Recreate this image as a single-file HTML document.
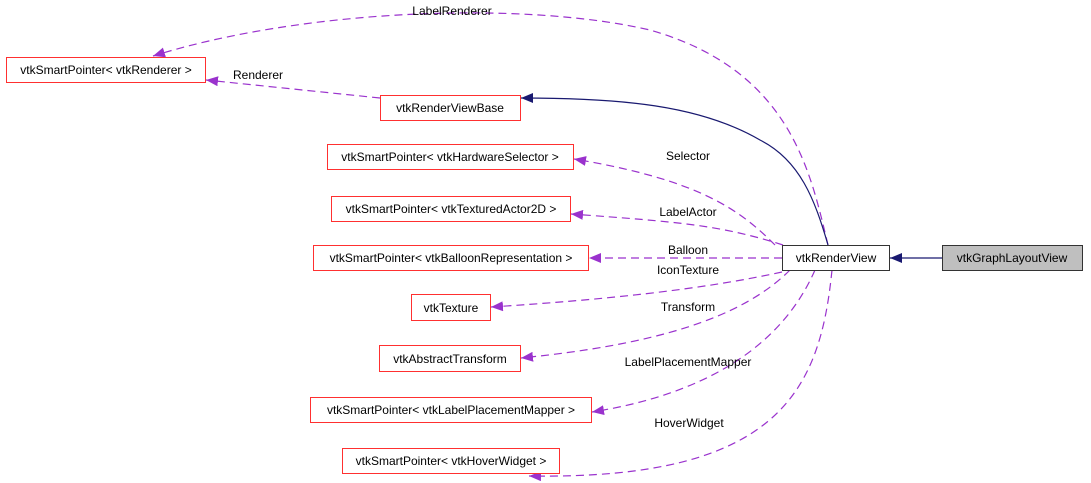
<!DOCTYPE html>
<html><head><meta charset="utf-8"><style>
html,body{margin:0;padding:0;background:#fff;width:1091px;height:483px;overflow:hidden}
text{font-family:"Liberation Sans",Arial,sans-serif;font-size:12px;fill:#000}
</style></head><body>
<svg width="1091" height="483" viewBox="0 0 1091 483" xmlns="http://www.w3.org/2000/svg">
<defs>
<marker id="p" markerWidth="13" markerHeight="10" refX="12" refY="5" orient="auto" markerUnits="userSpaceOnUse"><path d="M0,0 L12,5 L0,10 Z" fill="#9a32cd"/></marker>
<marker id="b" markerWidth="13" markerHeight="10" refX="12" refY="5" orient="auto" markerUnits="userSpaceOnUse"><path d="M0,0 L12,5 L0,10 Z" fill="#191970"/></marker>
</defs>
<g fill="none" stroke="#9a32cd" stroke-width="1.2" stroke-dasharray="8,5">
<path d="M828,245 C810,170 790,70 650,30 C520,0 300,10 153,56" marker-end="url(#p)"/>
<path d="M380,98 L206,80" marker-end="url(#p)"/>
<path d="M775,245 C740,210 700,180 574,159" marker-end="url(#p)"/>
<path d="M783,245 C720,225 680,222 571,214" marker-end="url(#p)"/>
<path d="M782,258 L589,258" marker-end="url(#p)"/>
<path d="M782,272 C700,290 600,300 491,307" marker-end="url(#p)"/>
<path d="M790,270 C740,320 650,345 521,358" marker-end="url(#p)"/>
<path d="M815,270 C780,350 700,395 592,412" marker-end="url(#p)"/>
<path d="M832,270 C820,390 780,480 529,476" marker-end="url(#p)"/>
</g>
<path d="M828,245 C815,200 800,160 760,140 C700,105 620,98 521,98" fill="none" stroke="#191970" stroke-width="1.2" marker-end="url(#b)"/>
<path d="M942,258 L890,258" fill="none" stroke="#191970" stroke-width="1.2" marker-end="url(#b)"/>
<g fill="#fff" stroke="#ff3030" stroke-width="1">
<rect x="6.5" y="57.5" width="199" height="25"/>
<rect x="380.5" y="95.5" width="140" height="25"/>
<rect x="327.5" y="144.5" width="246" height="25"/>
<rect x="331.5" y="196.5" width="239" height="25"/>
<rect x="313.5" y="245.5" width="275" height="25"/>
<rect x="411.5" y="294.5" width="79" height="26"/>
<rect x="379.5" y="345.5" width="141" height="26"/>
<rect x="310.5" y="397.5" width="281" height="25"/>
<rect x="342.5" y="448.5" width="217" height="25"/>
</g>
<rect x="782.5" y="245.5" width="107" height="25" fill="#fff" stroke="#333"/>
<rect x="942.5" y="245.5" width="140" height="25" fill="#bfbfbf" stroke="#333"/>
<g text-anchor="middle">
<text x="106" y="74">vtkSmartPointer&lt; vtkRenderer &gt;</text>
<text x="450" y="112">vtkRenderViewBase</text>
<text x="450" y="161">vtkSmartPointer&lt; vtkHardwareSelector &gt;</text>
<text x="451" y="213">vtkSmartPointer&lt; vtkTexturedActor2D &gt;</text>
<text x="451" y="262">vtkSmartPointer&lt; vtkBalloonRepresentation &gt;</text>
<text x="451" y="312">vtkTexture</text>
<text x="450" y="363">vtkAbstractTransform</text>
<text x="451" y="414">vtkSmartPointer&lt; vtkLabelPlacementMapper &gt;</text>
<text x="451" y="465">vtkSmartPointer&lt; vtkHoverWidget &gt;</text>
<text x="836" y="262">vtkRenderView</text>
<text x="1012" y="262">vtkGraphLayoutView</text>
<text x="452" y="15">LabelRenderer</text>
<text x="258" y="79">Renderer</text>
<text x="688" y="160">Selector</text>
<text x="688" y="216">LabelActor</text>
<text x="688" y="254">Balloon</text>
<text x="688" y="274">IconTexture</text>
<text x="688" y="311">Transform</text>
<text x="688" y="366">LabelPlacementMapper</text>
<text x="689" y="427">HoverWidget</text>
</g>
</svg>
</body></html>
